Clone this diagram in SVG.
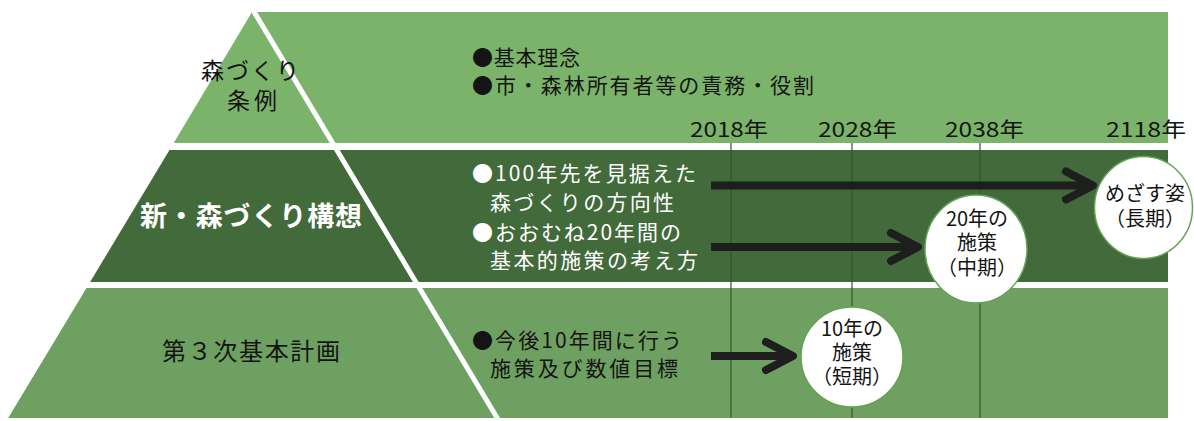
<svg xmlns="http://www.w3.org/2000/svg" width="1194" height="421" viewBox="0 0 1194 421">
<defs>
<style>
.t{font-family:"Noto Sans CJK JP","Noto Sans",sans-serif;}
.blk{fill:#141414;}
.wht{fill:#ffffff;}
.top{fill:#7bb36a;}
.mid{fill:#426a3b;}
.bot{fill:#6ea061;}
.vl{stroke:#34562e;stroke-width:1.2;}
.shaft{stroke:#1e1e1e;stroke-width:8;fill:none;}
.circ{fill:#ffffff;stroke:#66a356;stroke-width:1.5;}
</style>
<marker id="chev" markerUnits="userSpaceOnUse" markerWidth="44" markerHeight="44" viewBox="0 0 44 44" refX="38" refY="22" orient="auto" overflow="visible">
<path d="M11 8 L38 22 L11 36" fill="none" stroke="#1e1e1e" stroke-width="8" stroke-linecap="round" stroke-linejoin="round"/>
</marker>
</defs>
<rect width="1194" height="421" fill="#ffffff"/>
<g id="bands">
<polygon class="top" points="252,12 1168,12 1168,143 173.7,143"/>
<polygon class="mid" points="169.5,150 1168,150 1168,282 90.1,282"/>
<polygon class="bot" points="86.5,288 1168,288 1168,418 8.2,418"/>
<line x1="250" y1="5" x2="499" y2="421" stroke="#ffffff" stroke-width="5"/>
</g>
<g id="timeline">
<line class="vl" x1="731" y1="143" x2="731" y2="418"/>
<line class="vl" x1="852" y1="143" x2="852" y2="418"/>
<line class="vl" x1="980" y1="143" x2="980" y2="418"/>
<text class="t blk" x="690" y="137" font-size="20" textLength="78" lengthAdjust="spacingAndGlyphs">2018年</text>
<text class="t blk" x="818" y="137" font-size="20" textLength="79" lengthAdjust="spacingAndGlyphs">2028年</text>
<text class="t blk" x="945" y="137" font-size="20" textLength="79" lengthAdjust="spacingAndGlyphs">2038年</text>
<text class="t blk" x="1106" y="137" font-size="20" textLength="80" lengthAdjust="spacingAndGlyphs">2118年</text>
</g>
<g id="node-jorei">
<text class="t blk" x="250" y="79" font-size="23" text-anchor="middle" textLength="98">森づくり</text>
<text class="t blk" x="252" y="109" font-size="23" text-anchor="middle" textLength="50">条例</text>
<text class="t blk" x="472" y="65" font-size="21" textLength="108">●基本理念</text>
<text class="t blk" x="472" y="93" font-size="21" textLength="342">●市・森林所有者等の責務・役割</text>
</g>
<g id="node-koso">
<text class="t wht" x="251" y="226" font-size="27" font-weight="bold" text-anchor="middle" textLength="222">新・森づくり構想</text>
<text class="t wht" x="472" y="181" font-size="21" textLength="224">●100年先を見据えた</text>
<text class="t wht" x="490" y="210" font-size="21" textLength="184">森づくりの方向性</text>
<text class="t wht" x="472" y="240" font-size="21" textLength="209">●おおむね20年間の</text>
<text class="t wht" x="490" y="268" font-size="21" textLength="208">基本的施策の考え方</text>
</g>
<g id="node-keikaku">
<text class="t blk" x="251" y="360" font-size="24" text-anchor="middle" textLength="178">第３次基本計画</text>
<text class="t blk" x="472" y="348" font-size="21" textLength="210">●今後10年間に行う</text>
<text class="t blk" x="490" y="376" font-size="21" textLength="188">施策及び数値目標</text>
</g>
<g id="connectors">
<line class="shaft" x1="711" y1="185.5" x2="1093" y2="185.5" marker-end="url(#chev)"/>
<line class="shaft" x1="711" y1="247" x2="918" y2="247" marker-end="url(#chev)"/>
<line class="shaft" x1="711" y1="356" x2="793" y2="356" marker-end="url(#chev)"/>
</g>
<g id="node-long">
<ellipse class="circ" cx="1143.5" cy="207.5" rx="49" ry="51"/>
<text class="t blk" x="1145" y="201" font-size="20" text-anchor="middle">めざす姿</text>
<text class="t blk" x="1145" y="226" font-size="20" text-anchor="middle">（長期）</text>
</g>
<g id="node-mid">
<ellipse class="circ" cx="976" cy="249" rx="51" ry="54"/>
<text class="t blk" x="977" y="226" font-size="20" text-anchor="middle">20年の</text>
<text class="t blk" x="977" y="250" font-size="20" text-anchor="middle">施策</text>
<text class="t blk" x="977" y="275" font-size="20" text-anchor="middle">（中期）</text>
</g>
<g id="node-short">
<ellipse class="circ" cx="852" cy="357" rx="51" ry="50"/>
<text class="t blk" x="852" y="336" font-size="20" text-anchor="middle">10年の</text>
<text class="t blk" x="852" y="360" font-size="20" text-anchor="middle">施策</text>
<text class="t blk" x="852" y="384" font-size="20" text-anchor="middle">（短期）</text>
</g>
</svg>
